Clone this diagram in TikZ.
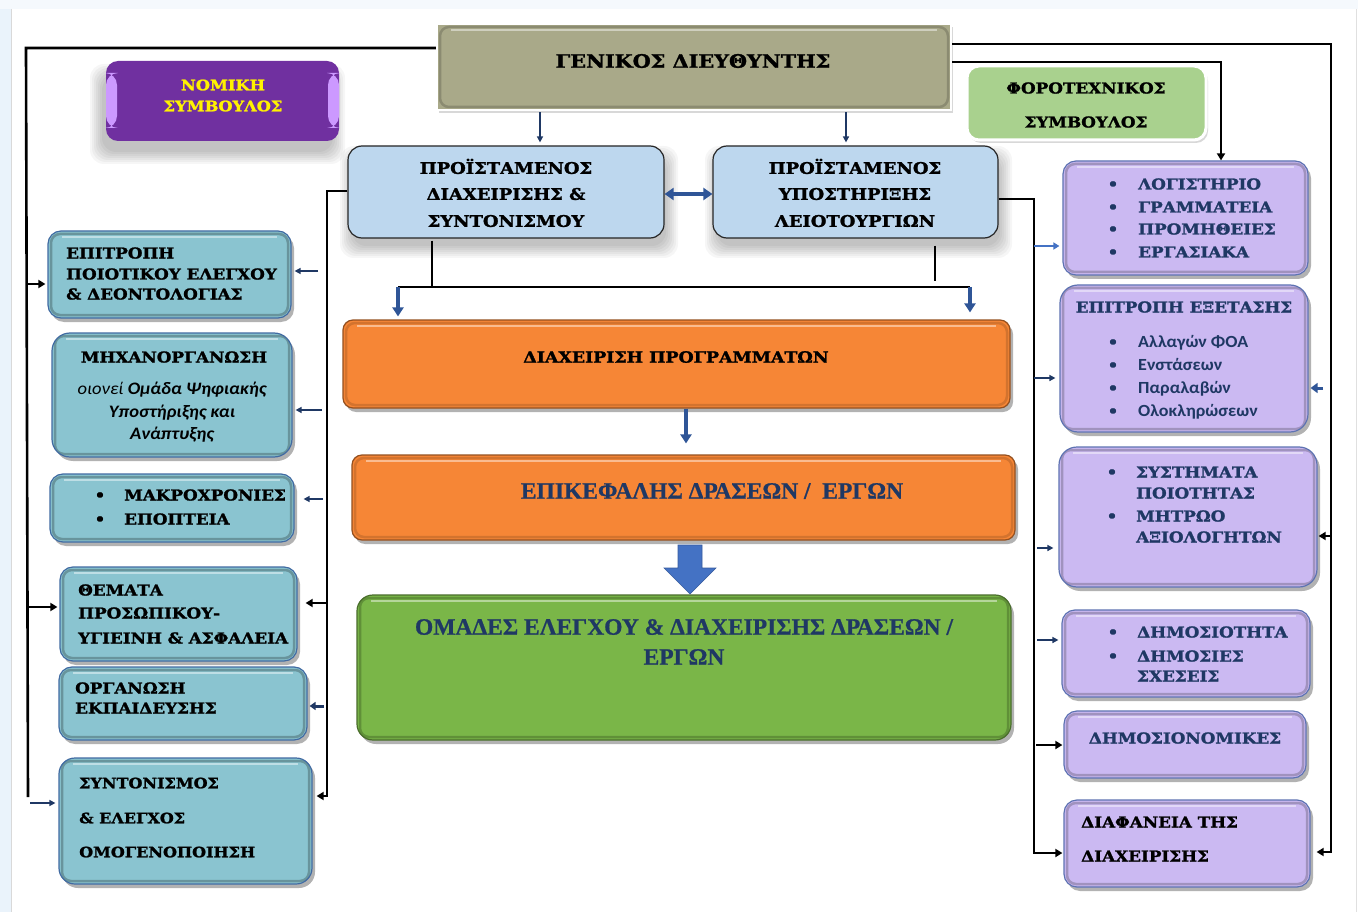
\documentclass[tikz,border=0pt]{standalone}
\usepackage{fontspec}
\setmainfont{DejaVu Serif}[FakeStretch=1.12, BoldFeatures={FakeBold=1.6}]
\newfontfamily\calf{Carlito}[FakeStretch=1.06]
\newfontfamily\timesf{Liberation Serif}[BoldFeatures={FakeBold=0.8}]
\usetikzlibrary{arrows.meta,shadows,calc}
\definecolor{cBg}{HTML}{EAF3FB}
\definecolor{cGD}{HTML}{A9A989}
\definecolor{cPurple}{HTML}{7030A0}
\definecolor{cLilac}{HTML}{CC99FF}
\definecolor{cPhoro}{HTML}{A9D18E}
\definecolor{cLB}{HTML}{BDD7EE}
\definecolor{cOr}{HTML}{F68636}
\definecolor{cGr}{HTML}{7AB648}
\definecolor{cTeal}{HTML}{8AC4D0}
\definecolor{cLav}{HTML}{CBB9F2}
\definecolor{cNavy}{HTML}{1F3864}
\definecolor{cArr}{HTML}{2F5597}
\definecolor{cBig}{HTML}{4472C4}
\newcommand\fsz[1]{\fontsize{#1}{#1}\selectfont}
\newcommand\mkbox[6]{\node[#2, inner sep=0pt, minimum width={(#5-#3)*1pt}, minimum height={(#6-#4)*1pt}] (#1) at ({(#3+#5)/2},{(#4+#6)/2}) {};}
% soft shadow: x1 y1 x2 y2 (already offset)
\newcommand\softshadow[4]{\foreach \k in {0,2,...,12}{\fill[black, opacity=.035, rounded corners=14pt] ({#1-\k},{#2-\k}) rectangle ({#3+\k},{#4+\k});}}
\tikzset{
  bevel/.style={path picture={
    \draw[#1, line width=2.5pt, rounded corners=9pt, opacity=.7]
      ($(path picture bounding box.north west)+(3pt,-3pt)$) rectangle ($(path picture bounding box.south east)+(-3pt,3pt)$);
    \draw[white, line width=2pt, opacity=.45]
      ($(path picture bounding box.north west)+(14pt,-6pt)$) -- ($(path picture bounding box.north east)+(-14pt,-6pt)$);}},
  panel/.style n args={3}{fill=#1, draw=#2, line width=1.2pt, rounded corners=13pt,
    drop shadow={shadow xshift=3pt, shadow yshift=-4pt, opacity=.3, fill=black}, bevel=#3},
  teal/.style={panel={cTeal}{cArr!80!cTeal}{cTeal!65!black}},
  lav/.style={panel={cLav}{cArr!70!cLav}{cLav!70!black}},
  t/.style={inner sep=0pt, text depth=0pt},
  hd/.style={t, font=\bfseries\fsz{15}, text height=11pt},
  hds/.style={t, font=\bfseries\fsz{14.3}, text height=10.5pt},
  hdn/.style={t, font=\bfseries\fsz{15}, text=cNavy, text height=11pt},
  cl/.style={t, font=\calf\bfseries\fsz{17}, text=cNavy, text height=10.9pt},
  ci/.style={t, font=\calf\bfseries\itshape\fsz{17.5}, text height=11.3pt},
  big/.style={t, font=\timesf\bfseries\fsz{23.5}, text=cNavy, text height=15.4pt},
  conn/.style={line width=2.6pt, black},
  tipk/.style={-{Triangle[length=7pt,width=8pt]}},
  narr/.style={line width=1.8pt, cNavy, -{Triangle[length=6pt,width=6pt]}, shorten >=3pt},
  barr/.style={line width=3.2pt, cArr, -{Triangle[length=9pt,width=11pt]}},
}
\begin{document}
\begin{tikzpicture}[x=1pt,y=-1pt]
\useasboundingbox (0,0) rectangle (1358,912);
\fill[white] (0,0) rectangle (1358,912);
\fill[cBg] (0,0) rectangle (11,912);
\fill[cBg!50] (0,0) rectangle (1358,9);
\draw[black!15, line width=1pt] (11.5,9) -- (11.5,912);
\draw[black!12, line width=1pt] (1356,9) -- (1356,912);

% ---------- soft shadows ----------
\softshadow{102}{76}{333}{152}
\softshadow{352}{158}{666}{246}
\softshadow{717}{158}{1000}{246}

% ---------- boxes ----------
\mkbox{gd}{fill=cGD, draw=white, line width=2.5pt, drop shadow={shadow xshift=2pt, shadow yshift=-3pt, opacity=.3}, bevel=cGD!75!black}{437}{24}{951}{110}
\mkbox{nom}{fill=cPurple, rounded corners=12pt,
  path picture={\fill[cLilac] ($(path picture bounding box.north west)+(0pt,-12pt)$) rectangle ($(path picture bounding box.north west)+(11pt,-67pt)$);
                \fill[cLilac] ($(path picture bounding box.north east)+(-11pt,-12pt)$) rectangle ($(path picture bounding box.north east)+(0pt,-67pt)$);}}{106}{61}{339}{141}
\mkbox{phoro}{fill=cPhoro, draw=white, line width=3pt, rounded corners=12pt, drop shadow={shadow xshift=2pt, shadow yshift=-3pt, opacity=.3}}{967}{66}{1206}{140}
\mkbox{p1}{fill=cLB, draw=black!85, line width=1.2pt, rounded corners=14pt}{348}{146}{664}{238}
\mkbox{p2}{fill=cLB, draw=black!85, line width=1.2pt, rounded corners=14pt}{713}{146}{998}{238}
\mkbox{dp}{panel={cOr}{cOr!60!black}{cOr!80!black}, rounded corners=10pt}{343}{320}{1010}{408}
\mkbox{ep}{panel={cOr}{cOr!60!black}{cOr!80!black}, rounded corners=10pt}{352}{455}{1015}{540}
\mkbox{om}{panel={cGr}{cGr!60!black}{cGr!70!black}, rounded corners=16pt}{357}{595}{1011}{740}
\mkbox{L1}{teal}{48}{231}{291}{318}
\mkbox{L2}{teal, rounded corners=18pt}{52}{333}{292}{457}
\mkbox{L3}{teal}{50}{474}{294}{542}
\mkbox{L4}{teal}{60}{567}{297}{661}
\mkbox{L5}{teal}{59}{667}{307}{740}
\mkbox{L6}{teal, rounded corners=16pt}{59}{758}{312}{884}
\mkbox{R1}{lav}{1063}{161}{1308}{275}
\mkbox{R2}{lav, rounded corners=18pt}{1060}{285}{1308}{432}
\mkbox{R3}{lav, rounded corners=18pt}{1059}{447}{1317}{587}
\mkbox{R4}{lav}{1062}{610}{1310}{697}
\mkbox{R5}{lav}{1064}{711}{1306}{778}
\mkbox{R6}{lav}{1064}{800}{1310}{887}

% ---------- texts ----------
\node[t, font=\bfseries\fsz{18.5}, text height=13.5pt] (tgd) at (693,61) {ΓΕΝΙΚΟΣ ΔΙΕΥΘΥΝΤΗΣ};
\node[t, font=\bfseries\fsz{14.5}, text height=10.6pt, text=yellow] (tnom1) at (223,85) {ΝΟΜΙΚΗ};
\node[t, font=\bfseries\fsz{14.5}, text height=10.6pt, text=yellow] (tnom2) at (223,106) {ΣΥΜΒΟΥΛΟΣ};
\node[hd] (tph1) at (1086,88) {ΦΟΡΟΤΕΧΝΙΚΟΣ};
\node[hd] (tph2) at (1086,122) {ΣΥΜΒΟΥΛΟΣ};
\node[t, font=\bfseries\fsz{16}, text height=11.7pt] (tp1a) at (506,168) {ΠΡΟΪΣΤΑΜΕΝΟΣ};
\node[t, font=\bfseries\fsz{16}, text height=11.7pt] (tp1b) at (506,194) {ΔΙΑΧΕΙΡΙΣΗΣ \&};
\node[t, font=\bfseries\fsz{16}, text height=11.7pt] (tp1c) at (506,221) {ΣΥΝΤΟΝΙΣΜΟΥ};
\node[t, font=\bfseries\fsz{16}, text height=11.7pt] (tp2a) at (855,168) {ΠΡΟΪΣΤΑΜΕΝΟΣ};
\node[t, font=\bfseries\fsz{16}, text height=11.7pt] (tp2b) at (855,194) {ΥΠΟΣΤΗΡΙΞΗΣ};
\node[t, font=\bfseries\fsz{16}, text height=11.7pt] (tp2c) at (855,221) {ΛΕΙΟΤΟΥΡΓΙΩΝ};
\node[t, font=\bfseries\fsz{15.5}, text height=11.3pt] (tdp) at (676,357) {ΔΙΑΧΕΙΡΙΣΗ ΠΡΟΓΡΑΜΜΑΤΩΝ};
\node[big] (tep) at (712,491) {ΕΠΙΚΕΦΑΛΗΣ ΔΡΑΣΕΩΝ /\ \ ΕΡΓΩΝ};
\node[big] (tom1) at (684,627) {ΟΜΑΔΕΣ ΕΛΕΓΧΟΥ \& ΔΙΑΧΕΙΡΙΣΗΣ ΔΡΑΣΕΩΝ /};
\node[big] (tom2) at (684,657) {ΕΡΓΩΝ};
% left column
\node[hd, anchor=west] (tl1a) at (66,253) {ΕΠΙΤΡΟΠΗ};
\node[hd, anchor=west] (tl1b) at (66,274) {ΠΟΙΟΤΙΚΟΥ ΕΛΕΓΧΟΥ};
\node[hd, anchor=west] (tl1c) at (66,294) {\& ΔΕΟΝΤΟΛΟΓΙΑΣ};
\node[hd] (tl2a) at (174,357) {ΜΗΧΑΝΟΡΓΑΝΩΣΗ};
\node[ci] (tl2b) at (172,389) {\mdseries οιονεί \bfseries Ομάδα Ψηφιακής};
\node[ci] (tl2c) at (172,412) {Υποστήριξης και};
\node[ci] (tl2d) at (172,434) {Ανάπτυξης};
\node[hd] (bl3a) at (100,495) {•};
\node[hd] (bl3b) at (100,519) {•};
\node[hd, anchor=west] (tl3a) at (124,495) {ΜΑΚΡΟΧΡΟΝΙΕΣ};
\node[hd, anchor=west] (tl3b) at (124,519) {ΕΠΟΠΤΕΙΑ};
\node[hd, anchor=west] (tl4a) at (78,590) {ΘΕΜΑΤΑ};
\node[hd, anchor=west] (tl4b) at (78,613) {ΠΡΟΣΩΠΙΚΟΥ-};
\node[hd, anchor=west] (tl4c) at (78,638) {ΥΓΙΕΙΝΗ \& ΑΣΦΑΛΕΙΑ};
\node[hd, anchor=west] (tl5a) at (75,688) {ΟΡΓΑΝΩΣΗ};
\node[hd, anchor=west] (tl5b) at (75,708) {ΕΚΠΑΙΔΕΥΣΗΣ};
\node[hds, anchor=west] (tl6a) at (79,783) {ΣΥΝΤΟΝΙΣΜΟΣ};
\node[hds, anchor=west] (tl6b) at (79,818) {\& ΕΛΕΓΧΟΣ};
\node[hds, anchor=west] (tl6c) at (79,852) {ΟΜΟΓΕΝΟΠΟΙΗΣΗ};
% right column
\foreach \y/\s [count=\i] in {184/ΛΟΓΙΣΤΗΡΙΟ, 207/ΓΡΑΜΜΑΤΕΙΑ, 229/ΠΡΟΜΗΘΕΙΕΣ, 252/ΕΡΓΑΣΙΑΚΑ}{
  \node[hdn] (br1\i) at (1113,\y) {•};
  \node[hdn, anchor=west] (tr1\i) at (1138,\y) {\s};}
\node[hdn] (tr2) at (1184,307) {ΕΠΙΤΡΟΠΗ ΕΞΕΤΑΣΗΣ};
\foreach \y/\s [count=\i] in {342/Αλλαγών ΦΟΑ, 365/Ενστάσεων, 388/Παραλαβών, 411/Ολοκληρώσεων}{
  \node[hdn] (br2\i) at (1113,\y) {•};
  \node[cl, anchor=west] (tr2\i) at (1138,\y) {\s};}
\node[hdn] (br3a) at (1112,472) {•};
\node[hdn] (br3b) at (1112,516) {•};
\node[hdn, anchor=west] (tr3a) at (1136,472) {ΣΥΣΤΗΜΑΤΑ};
\node[hdn, anchor=west] (tr3b) at (1136,493) {ΠΟΙΟΤΗΤΑΣ};
\node[hdn, anchor=west] (tr3c) at (1136,516) {ΜΗΤΡΩΟ};
\node[hdn, anchor=west] (tr3d) at (1136,537) {ΑΞΙΟΛΟΓΗΤΩΝ};
\node[hdn] (br4a) at (1113,632) {•};
\node[hdn] (br4b) at (1113,656) {•};
\node[hdn, anchor=west] (tr4a) at (1137,632) {ΔΗΜΟΣΙΟΤΗΤΑ};
\node[hdn, anchor=west] (tr4b) at (1137,656) {ΔΗΜΟΣΙΕΣ};
\node[hdn, anchor=west] (tr4c) at (1137,676) {ΣΧΕΣΕΙΣ};
\node[hdn] (tr5) at (1185,738) {ΔΗΜΟΣΙΟΝΟΜΙΚΕΣ};
\node[hd, anchor=west] (tr6a) at (1081,822) {ΔΙΑΦΑΝΕΙΑ ΤΗΣ};
\node[hd, anchor=west] (tr6b) at (1081,856) {ΔΙΑΧΕΙΡΙΣΗΣ};

% ---------- connectors ----------
% top arrows
\draw[narr, shorten <=1pt] (540,0 |- gd.south) -- (540,0 |- p1.north);
\draw[narr, shorten <=1pt] (846,0 |- gd.south) -- (846,0 |- p2.north);
\draw[line width=4pt, cArr, {Triangle[length=9pt,width=12pt]}-{Triangle[length=9pt,width=12pt]}] (p1.east |- 0,194) -- (p2.west |- 0,194);
% left outer
\coordinate (cTL) at (26,48);
\coordinate (cBL) at (28,797);
\draw[conn] (gd.west |- 0,48) -- (cTL) -- (cBL);
\draw[conn, tipk, shorten >=2pt] (26,284) -- (L1.west |- 0,284);
\draw[conn, tipk, shorten >=2pt] (27,607) -- (L4.west |- 0,607);
\draw[narr] (30,803) -- (L6.west |- 0,803);
% left inner
\coordinate (cIL) at (327,191);
\draw[conn, tipk, shorten >=4pt] (p1.west |- 0,191) -- (cIL) |- (L6.east |- 0,796);
\draw[narr, shorten >=3pt] (318,271) -- (L1.east |- 0,271);
\draw[narr] (322,410) -- (L2.east |- 0,410);
\draw[narr, shorten >=9pt] (323,499) -- (L3.east |- 0,499);
\draw[conn, tipk, shorten >=8pt] (327,603) -- (L4.east |- 0,603);
\draw[line width=3pt, cNavy, -{Triangle[length=6pt,width=8pt]}, shorten >=2pt] (324,706) -- (L5.east |- 0,706);
% right outer
\coordinate (cTR) at (1331,44);
\draw[conn, tipk, shorten >=6pt] (gd.east |- 0,44) -- (cTR) |- (R6.east |- 0,852);
\draw[conn, tipk, shorten >=1pt] (1331,536) -- (R3.east |- 0,536);
\draw[line width=3pt, cArr, -{Triangle[length=7pt,width=10pt]}, shorten >=2pt] (1323,388) -- (R2.east |- 0,388);
\coordinate (cR1) at (1221,62);
\draw[conn, tipk] (gd.east |- 0,62) -- (cR1) -- (cR1 |- R1.north);
% right inner
\coordinate (cIR) at (1034,199);
\draw[conn, tipk, shorten >=1pt] (p2.east |- 0,199) -- (cIR) |- (R6.west |- 0,853);
\draw[line width=2.4pt, cBig, -{Triangle[length=6pt,width=7pt]}, shorten >=3pt] (1034,246) -- (R1.west |- 0,246);
\draw[narr, shorten >=4pt] (1034,378) -- (R2.west |- 0,378);
\draw[narr, shorten >=5pt] (1037,548) -- (R3.west |- 0,548);
\draw[narr] (1037,640) -- (R4.west |- 0,640);
\draw[conn, tipk, shorten >=1pt] (1036,745) -- (R5.west |- 0,745);
% to DP
\coordinate (cJ1) at (432,287);
\coordinate (cJ2) at (935,281);
\coordinate (cJL) at (398,287);
\coordinate (cJR) at (970,287);
\draw[conn, shorten <=2pt] (432,0 |- p1.south) -- (cJ1);
\draw[conn, shorten <=7pt] (935,0 |- p2.south) -- (cJ2);
\draw[conn] (cJL) -- (cJR);
\draw[barr, shorten >=3pt] (cJL) -- (cJL |- dp.north);
\draw[barr, shorten >=7pt] (cJR) -- (cJR |- dp.north);
\draw[barr, shorten >=11pt] (686,0 |- dp.south) -- (686,0 |- ep.north);
% big block arrow ep -> om
\fill[cBig, draw=cBig!80!black, line width=.6pt] (678,545) -- (702,545) -- (702,568) -- (716,568) -- (690,594) -- (664,568) -- (678,568) -- cycle;
\end{tikzpicture}
\end{document}
